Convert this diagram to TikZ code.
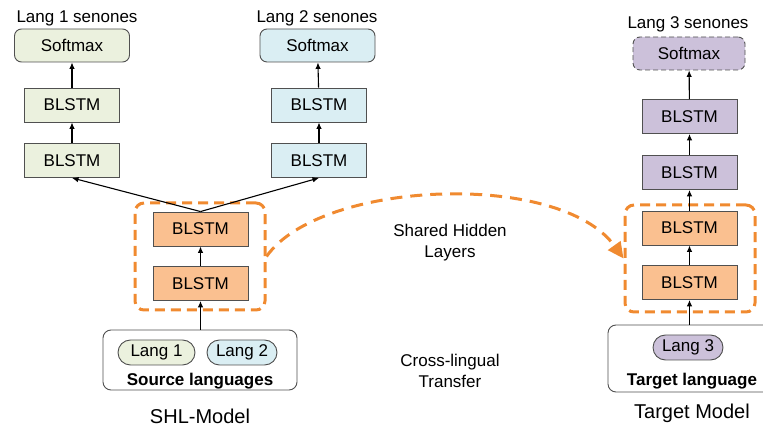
\documentclass[tikz,border=0pt]{standalone}
\usepackage{fontspec}
\setmainfont{Liberation Sans}
\usetikzlibrary{arrows.meta,calc}
\definecolor{cgreen}{HTML}{EBF1DE}
\definecolor{cblue}{HTML}{DAEEF3}
\definecolor{corange}{HTML}{FAC090}
\definecolor{cpurple}{HTML}{CCC1DA}
\definecolor{cline}{HTML}{F08A30}
\definecolor{cborder}{HTML}{505050}
\tikzset{
  lbl/.style={font=\fontsize{17}{19}\selectfont, inner sep=0pt},
  ttl/.style={font=\fontsize{20}{22}\selectfont, inner sep=0pt},
  layer/.style={draw=cborder, line width=0.9pt, minimum width=95pt, minimum height=34pt, inner sep=0pt, font=\fontsize{17}{19}\selectfont},
  smx/.style={layer, rounded corners=7pt, minimum width=115pt, minimum height=33pt},
  pill/.style={draw=cborder, line width=0.9pt, rounded corners=12.5pt, minimum height=25pt, inner sep=0pt, font=\fontsize{17}{19}\selectfont},
  group/.style={draw=cline, line width=3pt, dash pattern=on 10pt off 6pt, rounded corners=9pt, inner sep=0pt},
  inbox/.style={draw=cborder, line width=0.9pt, rounded corners=8pt, inner sep=0pt},
  conn/.style={-{Latex[length=6.5pt,width=5.5pt]}, line width=1.1pt, black},
}
\begin{document}
\begin{tikzpicture}[x=1pt,y=-1pt]
\useasboundingbox (0,0) rectangle (763,427);
% Lang 1 tower
\node[lbl] (t1) at (77,18) {Lang 1 senones};
\node[smx, fill=cgreen] (sm1) at (72,45.5) {Softmax};
\node[layer, fill=cgreen] (b1a) at (72,105) {BLSTM};
\node[layer, fill=cgreen] (b1b) at (72,160.5) {BLSTM};
% Lang 2 tower
\node[lbl] (t2) at (317,18) {Lang 2 senones};
\node[smx, fill=cblue] (sm2) at (317.5,45.5) {Softmax};
\node[layer, fill=cblue] (b2a) at (319,105) {BLSTM};
\node[layer, fill=cblue] (b2b) at (319,160.5) {BLSTM};
% shared
\node[group, minimum width=130pt, minimum height=107pt] (sh) at (200,256.5) {};
\node[layer, fill=corange] (s1) at (200.5,229) {BLSTM};
\node[layer, fill=corange] (s2) at (200.5,283.5) {BLSTM};
\node[inbox, minimum width=194pt, minimum height=60pt] (src) at (200,360) {};
\node[pill, fill=cgreen, minimum width=77pt] (l1) at (156.5,352.5) {Lang 1};
\node[pill, fill=cblue, minimum width=70pt] (l2) at (242,352.5) {Lang 2};
\node[lbl, font=\fontsize{17}{19}\selectfont\bfseries] (srct) at (200,381) {Source languages};
\node[ttl] (shl) at (200,416) {SHL-Model};
% arrows left
\draw[conn] (src.north -| s2) -- (s2.south);
\draw[conn] (s2) -- (s1);
\draw[conn] (s1.north) -- (b1b.south);
\draw[conn] (s1.north) -- (b2b.south);
\draw[conn] (b1b) -- (b1a);
\draw[conn] (b1a) -- (sm1);
\draw[conn] (b2b) -- (b2a);
\draw[conn] (b2a) -- (sm2);
% target
\node[lbl] (t3) at (688,24) {Lang 3 senones};
\node[smx, fill=cpurple, dash pattern=on 5pt off 3pt, draw=cborder, minimum width=112pt] (tsm) at (689,53.5) {Softmax};
\node[layer, fill=cpurple] (tb1) at (689.5,116.5) {BLSTM};
\node[layer, fill=cpurple] (tb2) at (689.5,172.5) {BLSTM};
\node[group, minimum width=130pt, minimum height=107pt] (tsh) at (690,258.5) {};
\node[layer, fill=corange] (to1) at (689.5,228) {BLSTM};
\node[layer, fill=corange] (to2) at (689.5,282.5) {BLSTM};
\node[inbox, minimum width=167pt, minimum height=67pt] (tgt) at (691.5,358.5) {};
\node[pill, fill=cpurple, minimum width=70pt] (l3) at (688,347.5) {Lang 3};
\node[lbl, font=\fontsize{17}{19}\selectfont\bfseries] (tgtt) at (692,381) {Target language};
\node[ttl] (tm) at (692,413) {Target Model};
\draw[conn] (tgt.north -| to2) -- (to2.south);
\draw[conn] (to2) -- (to1);
\draw[conn] (to1) -- (tb2);
\draw[conn] (tb2) -- (tb1);
\draw[conn] (tb1) -- (tsm);
% middle texts
\node[lbl, align=center] (shtxt) at (450,243) {Shared Hidden\\[2pt]Layers};
\node[lbl, align=center] (cltxt) at (450,371) {Cross-lingual\\[2pt]Transfer};
% transfer arrow
\draw[draw=cline, line width=3pt, dash pattern=on 12pt off 8pt, -{Triangle[length=16pt,width=15pt]}]
  (sh.east) .. controls (320,180) and (560,170) .. (tsh.west);
\end{tikzpicture}
\end{document}
